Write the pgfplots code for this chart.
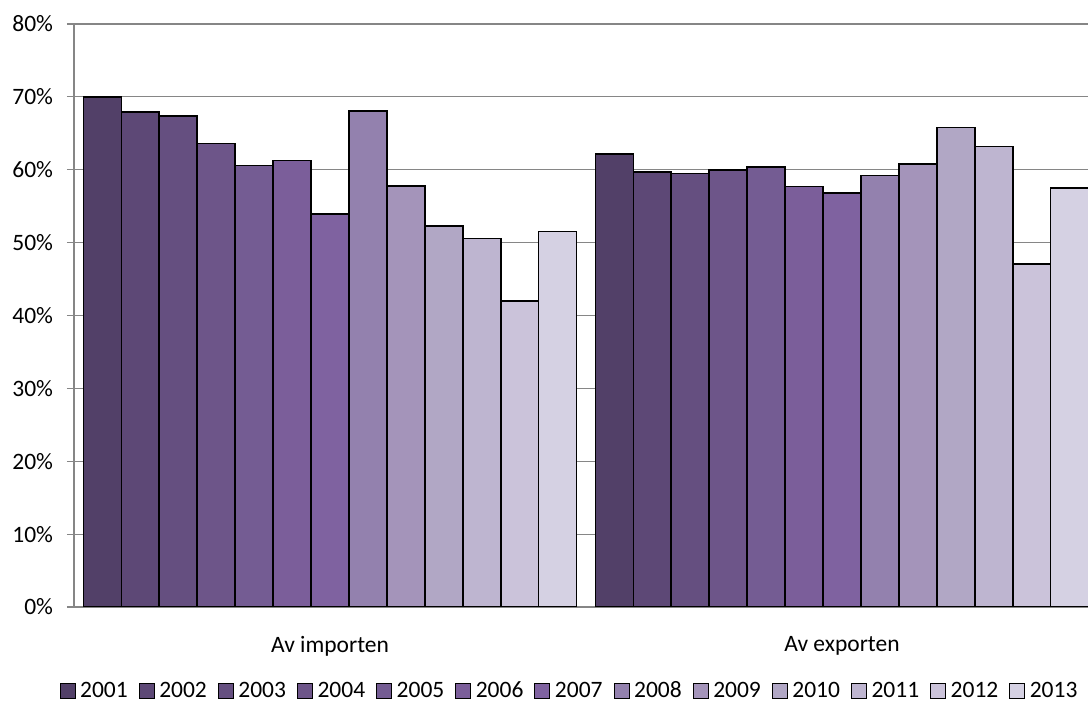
\documentclass[border=0pt]{standalone}
\usepackage{pgfplots}
\pgfplotsset{compat=1.18}
\usepackage{fontspec}
\setmainfont{Carlito}
\definecolor{c01}{HTML}{524068}
\definecolor{c02}{HTML}{5D4876}
\definecolor{c03}{HTML}{654F80}
\definecolor{c04}{HTML}{6D5589}
\definecolor{c05}{HTML}{745C93}
\definecolor{c06}{HTML}{7B5E9A}
\definecolor{c07}{HTML}{7F62A0}
\definecolor{c08}{HTML}{9381AE}
\definecolor{c09}{HTML}{A494BA}
\definecolor{c10}{HTML}{B1A7C5}
\definecolor{c11}{HTML}{BEB5D0}
\definecolor{c12}{HTML}{CBC3DA}
\definecolor{c13}{HTML}{D5D1E3}
\definecolor{axgray}{HTML}{868686}
\begin{document}
\fontsize{23.5bp}{28bp}\selectfont
\begin{tikzpicture}
\begin{axis}[
  at={(74bp,95bp)}, anchor=south west,
  scale only axis, width=1014bp, height=583bp,
  ybar=0pt, bar width=0.0741,
  area legend,
  legend image code/.code={\draw[#1,/tikz/.cd,line width=1bp] (0bp,-7.5bp) rectangle (15bp,7.5bp);\path[draw=none,fill=none] (0bp,0bp) rectangle (18bp,0.1bp);},
  xmin=-0.5, xmax=1.4805, ymin=0, ymax=80,
  ytick={0,10,...,80},
  yticklabel={\pgfmathprintnumber{\tick}\%},
  /pgf/number format/assume math mode=true,
  xtick={0,1}, xticklabels={Av importen, Av exporten},
  xtick style={draw=none},
  extra x ticks={-0.5,0.5},
  extra x tick labels={},
  extra x tick style={major tick length=8bp, tick align=outside, tick style={axgray, line width=1.2bp}},
  axis x line*=bottom, axis y line*=left,
  axis line style={axgray, line width=1.5bp},
  ytick style={axgray, line width=1.2bp},
  major tick length=7bp, tick align=outside,
  ymajorgrids, grid style={axgray, line width=1.2bp},
  xticklabel style={yshift=-14bp},
  yticklabel style={xshift=-6bp},
  every axis plot/.append style={draw=black, line width=1.6bp},
  legend columns=13,
  legend style={at={(0.4887,-0.1445)}, anchor=center, draw=none, fill=none,
    inner sep=0pt, /tikz/every even column/.append style={column sep=9bp},
    nodes={inner xsep=2bp, inner ysep=0bp}},
  clip=true,
]
\addplot[fill=c01] coordinates {(0,70.0) (1,62.2)};
\addplot[fill=c02] coordinates {(0,67.9) (1,59.7)};
\addplot[fill=c03] coordinates {(0,67.4) (1,59.5)};
\addplot[fill=c04] coordinates {(0,63.6) (1,60.0)};
\addplot[fill=c05] coordinates {(0,60.6) (1,60.4)};
\addplot[fill=c06] coordinates {(0,61.25) (1,57.7)};
\addplot[fill=c07] coordinates {(0,53.9) (1,56.8)};
\addplot[fill=c08] coordinates {(0,68.1) (1,59.2)};
\addplot[fill=c09] coordinates {(0,57.75) (1,60.8)};
\addplot[fill=c10] coordinates {(0,52.3) (1,65.8)};
\addplot[fill=c11] coordinates {(0,50.55) (1,63.2)};
\addplot[fill=c12] coordinates {(0,42.0) (1,47.1)};
\addplot[fill=c13] coordinates {(0,51.5) (1,57.5)};
\legend{2001,2002,2003,2004,2005,2006,2007,2008,2009,2010,2011,2012,2013}
\end{axis}
\pgfresetboundingbox
\path (0,0) rectangle (1088bp,702bp);
\end{tikzpicture}
\end{document}
